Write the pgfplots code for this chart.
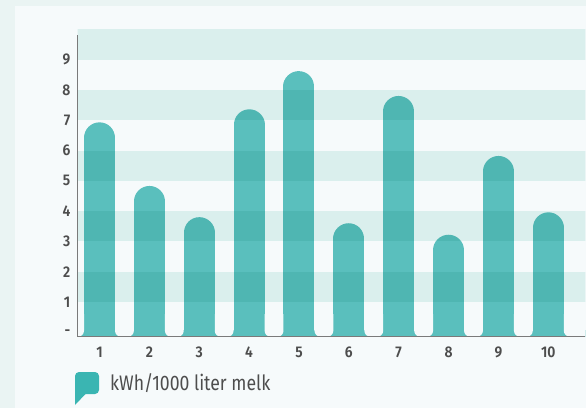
\documentclass[border=0pt]{standalone}
\usepackage{fontspec}
\setmainfont{Fira Sans}
\newfontfamily\tickfont{Fira Sans}[FakeStretch=0.9, UprightFont={* SemiBold}]
\newfontfamily\legfont{Fira Sans}[FakeStretch=0.84]
\usepackage{pgfplots}
\usepackage{pgfplotstable}
\pgfplotsset{compat=1.18}
\definecolor{outerbg}{HTML}{EAF4F3}
\definecolor{panel}{HTML}{F6FAFB}
\definecolor{bandmul}{HTML}{E2F4F1}
\definecolor{barc}{HTML}{5ABFBD}
\definecolor{legteal}{HTML}{3AB5B2}
\definecolor{axisgray}{HTML}{7A7A7A}
\definecolor{txt}{HTML}{4D4D4D}
\pgfplotstableread{
x v
1 6.93
2 4.83
3 3.80
4 7.36
5 8.62
6 3.60
7 7.80
8 3.22
9 5.82
10 3.96
}\datatable
\begin{document}
\begin{tikzpicture}[x=1pt,y=1pt]
\fill[outerbg] (0,0) rectangle (586,408);
\fill[panel] (15,0) rectangle (586,402);
\begin{axis}[
  at={(77.5pt,71.3pt)}, anchor=south west,
  scale only axis, width=507.8pt, height=307.4pt,
  xmin=0.5585, xmax=10.742, ymin=-0.145, ymax=10,
  axis on top,
  axis lines=left,
  axis line style={-, axisgray},
  x axis line style={line width=1.2pt},
  y axis line style={line width=1.6pt, shorten >=5.7pt},
  xtick={1,...,10}, ytick={0,...,9},
  yticklabels={-,1,2,3,4,5,6,7,8,9},
  /pgf/number format/assume math mode=true,
  major tick length=0pt,
  tick label style={font=\tickfont\fontsize{15.5}{16}\selectfont, text=txt},
  xticklabel style={anchor=north, inner sep=0pt, yshift=-10pt},
  yticklabel style={anchor=east, inner sep=0pt, xshift=-7pt},
]
% bars: round-capped combs, value = top of the rounded bar
\addplot[ycomb, draw=barc, line width=31pt, line cap=round, mark=none]
  table[x=x, y expr=\thisrow{v}-0.5116] {\datatable};
% flared feet of the bars
\addplot[fill=barc, draw=none] coordinates {(0.3,-0.3) (11,-0.3) (11,0.09) (0.3,0.09)};
\addplot[fill=panel, draw=none, rounded corners=6pt] coordinates {(0.4,0.6) (0.4,-0.145) (0.689,-0.145) (0.689,0.6)};
\addplot[fill=panel, draw=none, rounded corners=6pt] coordinates {(1.311,0.6) (1.311,-0.145) (1.689,-0.145) (1.689,0.6)};
\addplot[fill=panel, draw=none, rounded corners=6pt] coordinates {(2.311,0.6) (2.311,-0.145) (2.689,-0.145) (2.689,0.6)};
\addplot[fill=panel, draw=none, rounded corners=6pt] coordinates {(3.311,0.6) (3.311,-0.145) (3.689,-0.145) (3.689,0.6)};
\addplot[fill=panel, draw=none, rounded corners=6pt] coordinates {(4.311,0.6) (4.311,-0.145) (4.689,-0.145) (4.689,0.6)};
\addplot[fill=panel, draw=none, rounded corners=6pt] coordinates {(5.311,0.6) (5.311,-0.145) (5.689,-0.145) (5.689,0.6)};
\addplot[fill=panel, draw=none, rounded corners=6pt] coordinates {(6.311,0.6) (6.311,-0.145) (6.689,-0.145) (6.689,0.6)};
\addplot[fill=panel, draw=none, rounded corners=6pt] coordinates {(7.311,0.6) (7.311,-0.145) (7.689,-0.145) (7.689,0.6)};
\addplot[fill=panel, draw=none, rounded corners=6pt] coordinates {(8.311,0.6) (8.311,-0.145) (8.689,-0.145) (8.689,0.6)};
\addplot[fill=panel, draw=none, rounded corners=6pt] coordinates {(9.311,0.6) (9.311,-0.145) (9.689,-0.145) (9.689,0.6)};
\addplot[fill=panel, draw=none, rounded corners=6pt] coordinates {(10.311,0.6) (10.311,-0.145) (11.2,-0.145) (11.2,0.6)};
% horizontal bands (multiplied over the bars)
\addplot[fill=bandmul, draw=none, blend mode=multiply] coordinates {(0,1) (12,1) (12,2) (0,2)};
\addplot[fill=bandmul, draw=none, blend mode=multiply] coordinates {(0,3) (12,3) (12,4) (0,4)};
\addplot[fill=bandmul, draw=none, blend mode=multiply] coordinates {(0,5) (12,5) (12,6) (0,6)};
\addplot[fill=bandmul, draw=none, blend mode=multiply] coordinates {(0,7) (12,7) (12,8) (0,8)};
\addplot[fill=bandmul, draw=none, blend mode=multiply] coordinates {(0,9) (12,9) (12,10) (0,10)};
\end{axis}
% legend
\fill[legteal, rounded corners=4pt] (75,14) rectangle (99,36);
\fill[legteal] (75,14) rectangle (81,20);
\fill[legteal] (75,14.5) -- (75,3) -- (86,14.5) -- cycle;
\node[anchor=base west, inner sep=0pt, font=\legfont\fontsize{21}{22}\selectfont, text=txt] at (110,18) {kWh/1000 liter melk};
\pgfresetboundingbox
\useasboundingbox (0,0) rectangle (586,408);
\end{tikzpicture}
\end{document}
